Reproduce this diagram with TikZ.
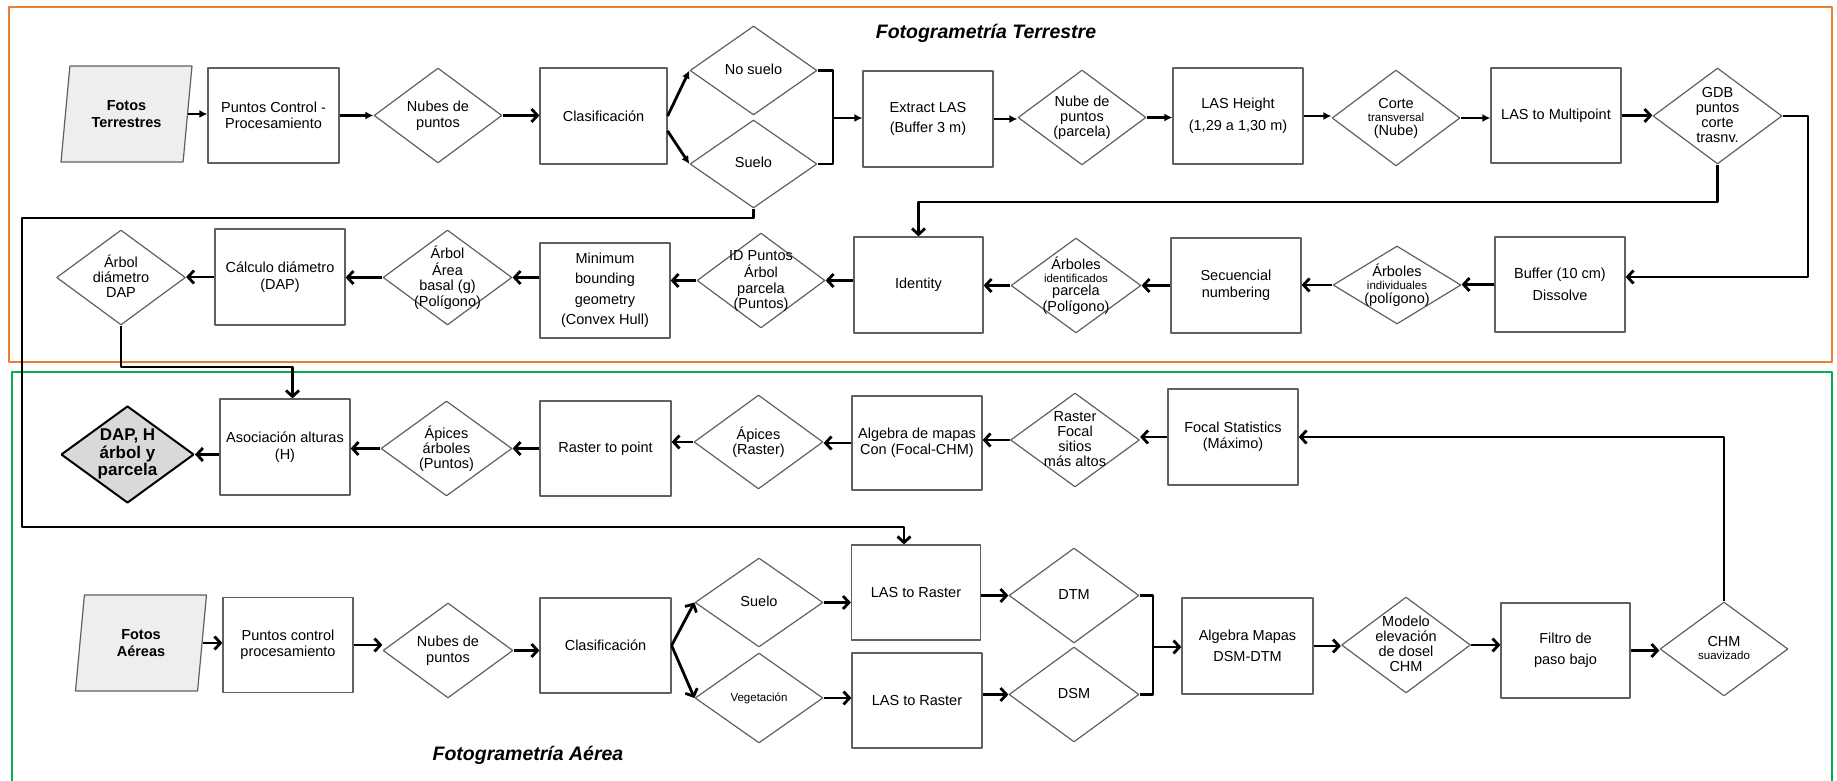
\documentclass[tikz,border=0pt]{standalone}
\usepackage{fontspec}
\setmainfont{Liberation Sans}
\usetikzlibrary{shapes.geometric,arrows.meta}
\definecolor{gris}{RGB}{96,96,96}
\definecolor{naranja}{RGB}{237,125,49}
\definecolor{verde}{RGB}{0,176,80}
\definecolor{relleno}{RGB}{238,238,238}
\definecolor{rellenofin}{RGB}{217,217,217}
\newcommand{\letra}{\fontsize{14.5bp}{16.5bp}\selectfont}
\newcommand{\chico}{\fontsize{11.5bp}{13bp}\selectfont}
\newcommand{\rtxt}[1]{\smash{\raisebox{-4.5bp}{\renewcommand{\arraystretch}{0.92}\begin{tabular}{@{}c@{}}#1\end{tabular}}}}
\begin{document}
\begin{tikzpicture}[>={Straight Barb[length=6bp,width=13bp]},line join=bevel,
    every node/.style={font=\letra},
    caja/.style={draw=gris,line width=1.2bp,rectangle,minimum width=130bp,minimum height=95bp,align=center,inner sep=2bp},
    rombo/.style={draw=gris,line width=1.2bp,diamond,minimum width=128bp,minimum height=95bp,inner sep=0pt},
    entrada/.style={draw=gris,line width=1.2bp,trapezium,trapezium left angle=75,trapezium right angle=105,trapezium stretches body,minimum width=131bp,minimum height=96bp,fill=relleno,align=center,font=\letra\bfseries},
    salida/.style={rombo,draw=black,line width=2bp,fill=rellenofin,minimum width=133bp,minimum height=97bp,font=\fontsize{17bp}{18.5bp}\selectfont\bfseries},
    titulo/.style={font=\fontsize{19.5bp}{22bp}\selectfont\bfseries\itshape},
    marco/.style={line width=1.2bp},
    linea/.style={line width=2.8bp},
    flecha/.style={linea,->},
    flechat/.style={linea,-{Latex[length=8bp,width=8bp]}},
]
    \useasboundingbox (0bp,0bp) rectangle (1837bp,781bp);
    %% marcos
    \draw [marco,draw=naranja] (9bp,419bp) rectangle (1832bp,774bp);
    \draw [marco,draw=verde] (12bp,0bp) -- (12bp,409bp) -- (1832bp,409bp) -- (1832bp,0bp);
    \node (tituloT) at (986bp,748bp) [titulo] {Fotogrametría Terrestre};
    \node (tituloA) at (528bp,26bp) [titulo] {Fotogrametría Aérea};
    %% terrestre
    \node (fotT) at (126.5bp,667bp) [entrada] {Fotos\\Terrestres};
    \node (pcT) at (273.5bp,665.5bp) [caja,minimum width=131bp] {Puntos Control -\\Procesamiento};
    \node (nubT) at (438bp,665.5bp) [rombo] {\rtxt{Nubes de\\puntos}};
    \node (clasT) at (603.5bp,665bp) [caja,minimum width=127bp,minimum height=96bp] {Clasificación};
    \node (noSuelo) at (753.5bp,710.5bp) [rombo,minimum width=127bp,minimum height=89bp] {\rtxt{No suelo}};
    \node (sueloT) at (753.5bp,617bp) [rombo,minimum width=127bp,minimum height=88bp] {\rtxt{Suelo}};
    \node (extLAS) at (928bp,662bp) [caja,minimum height=96bp] {Extract LAS\\[3bp](Buffer 3 m)};
    \node (nubParc) at (1082bp,663.5bp) [rombo] {\rtxt{Nube de\\puntos\\(parcela)}};
    \node (lasH) at (1238bp,665bp) [caja,minimum height=96bp] {LAS Height\\[5bp](1,29 a 1,30 m)};
    \node (corte) at (1396bp,663bp) [rombo,minimum height=96bp] {\rtxt{Corte\\[-2bp]\chico transversal\\[-2bp](Nube)}};
    \node (lasMP) at (1556bp,665.5bp) [caja] {LAS to Multipoint};
    \node (gdb) at (1717.5bp,665bp) [rombo,minimum width=129bp,minimum height=96bp] {\rtxt{GDB\\puntos\\corte\\trasnv.}};
    %
    \node (buffer) at (1560bp,496.5bp) [caja] {Buffer (10 cm)\\[5bp]Dissolve};
    \node (arbInd) at (1397bp,496bp) [rombo,minimum height=78bp] {\rtxt{Árboles\\[-2bp]\chico individuales\\[-2bp](polígono)}};
    \node (secuen) at (1236bp,495.5bp) [caja] {Secuencial\\numbering};
    \node (arbIdent) at (1076bp,495.5bp) [rombo,minimum width=130bp] {\rtxt{Árboles\\[-2bp]\chico identificados\\[-2bp]parcela\\(Polígono)}};
    \node (identity) at (918.5bp,496bp) [caja,minimum width=129bp,minimum height=96bp] {Identity};
    \node (idPuntos) at (761bp,500.5bp) [rombo] {\rtxt{ID Puntos\\Árbol\\parcela\\(Puntos)}};
    \node (minBound) at (605bp,490.5bp) [caja] {Minimum\\[4bp]bounding\\[4bp]geometry\\[4bp](Convex Hull)};
    \node (areaBasal) at (447.5bp,503.5bp) [rombo,minimum width=129bp] {\rtxt{Árbol\\Área\\basal (g)\\(Polígono)}};
    \node (calcDiam) at (280bp,504bp) [caja,minimum height=96bp] {Cálculo diámetro\\(DAP)};
    \node (arbDAP) at (121bp,503.5bp) [rombo,minimum width=129bp] {\rtxt{Árbol\\diámetro\\DAP}};
    %% aerea
    \node (dapH) at (127.5bp,326.5bp) [salida] {\rtxt{DAP, H\\árbol y\\parcela}};
    \node (asoc) at (285bp,334bp) [caja,minimum height=96bp] {Asociación alturas\\(H)};
    \node (apArb) at (446.5bp,332.5bp) [rombo,minimum width=131bp] {\rtxt{Ápices\\árboles\\(Puntos)}};
    \node (rasPt) at (605.5bp,332.5bp) [caja,minimum width=131bp] {Raster to point};
    \node (apRas) at (758.5bp,339bp) [rombo,minimum width=129bp,minimum height=94bp] {\rtxt{Ápices\\(Raster)}};
    \node (algCon) at (917bp,338bp) [caja,minimum height=94bp] {Algebra de mapas\\Con (Focal-CHM)};
    \node (rasFoc) at (1075bp,341bp) [rombo,minimum width=129bp,minimum height=94bp] {\rtxt{Raster\\Focal\\sitios\\más altos}};
    \node (focal) at (1233bp,344bp) [caja,minimum height=96bp] {Focal Statistics\\(Máximo)};
    %
    \node (fotA) at (141bp,138bp) [entrada] {Fotos\\Aéreas};
    \node (pcA) at (288bp,136bp) [caja] {Puntos control\\procesamiento};
    \node (nubA) at (448bp,130.5bp) [rombo,minimum width=130bp] {\rtxt{Nubes de\\puntos}};
    \node (clasA) at (605.5bp,135.5bp) [caja,minimum width=131bp] {Clasificación};
    \node (sueloA) at (759bp,178.5bp) [rombo,minimum height=89bp] {\rtxt{Suelo}};
    \node (vegA) at (759bp,83bp) [rombo,minimum height=90bp] {\rtxt{\chico Vegetación}};
    \node (las1) at (916bp,188.5bp) [caja,minimum width=129bp] {LAS to Raster};
    \node (las2) at (917bp,80.5bp) [caja] {LAS to Raster};
    \node (dtm) at (1074bp,185.5bp) [rombo,minimum width=130bp] {\rtxt{DTM}};
    \node (dsm) at (1074bp,86.5bp) [rombo,minimum width=130bp] {\rtxt{DSM}};
    \node (algMap) at (1247.5bp,135bp) [caja,minimum width=131bp,minimum height=96bp] {Algebra Mapas\\[5bp]DSM-DTM};
    \node (modelo) at (1406bp,136bp) [rombo,minimum width=129bp,minimum height=96bp] {\rtxt{Modelo\\elevación\\de dosel\\CHM}};
    \node (filtro) at (1565.5bp,130.5bp) [caja,minimum width=129bp] {Filtro de\\[5bp]paso bajo};
    \node (chm) at (1724bp,132bp) [rombo,minimum height=94bp] {\rtxt{CHM\\[-2bp]\chico suavizado}};
    %% conectores terrestre
    \draw [flechat] (fotT.east) -- (fotT.east -| pcT.west);
    \draw [flechat] (pcT.east) -- (pcT.east -| nubT.west);
    \draw [flecha] (nubT.east) -- (nubT.east -| clasT.west);
    \draw [flechat] (clasT.east) -- (noSuelo.west);
    \draw [flechat] ([yshift=-15bp]clasT.east) -- (sueloT.west);
    \coordinate (uneT) at (833bp,663bp);
    \draw [linea] (noSuelo.east) -| (uneT) |- (sueloT.east);
    \draw [flechat] (uneT) -- (uneT -| extLAS.west);
    \draw [flechat] (extLAS.east) -- (extLAS.east -| nubParc.west);
    \draw [flechat] (nubParc.east) -- (nubParc.east -| lasH.west);
    \draw [flechat] (lasH.east) -- (lasH.east -| corte.west);
    \draw [flechat] (corte.east) -- (corte.east -| lasMP.west);
    \draw [flecha] (lasMP.east) -- (lasMP.east -| gdb.west);
    \coordinate (codoB) at (1808bp,504bp);
    \draw [flecha] (gdb.east) -| (codoB) -- (codoB -| buffer.east);
    \coordinate (codoI) at (918.5bp,579bp);
    \draw [flecha] (gdb.south) |- (codoI) -- (identity.north);
    \coordinate (codoS) at (22bp,563bp);
    \coordinate (codoR) at (22bp,254bp);
    \draw [flecha] (sueloT.south) |- (codoS) -- (codoR) -| ([xshift=-12bp]las1.north);
    %
    \draw [flecha] (buffer.west) -- (buffer.west -| arbInd.east);
    \draw [flecha] (arbInd.west) -- (arbInd.west -| secuen.east);
    \draw [flecha] (secuen.west) -- (secuen.west -| arbIdent.east);
    \draw [flecha] (arbIdent.west) -- (arbIdent.west -| identity.east);
    \draw [flecha] (identity.west |- idPuntos.east) -- (idPuntos.east);
    \draw [flecha] (idPuntos.west) -- (idPuntos.west -| minBound.east);
    \draw [flecha] (minBound.west |- areaBasal.east) -- (areaBasal.east);
    \draw [flecha] (areaBasal.west) -- (areaBasal.west -| calcDiam.east);
    \draw [flecha] (calcDiam.west) -- (calcDiam.west -| arbDAP.east);
    \coordinate (codoD) at (292.5bp,414bp);
    \draw [flecha] (arbDAP.south) |- (codoD) -- (codoD |- asoc.north);
    %% conectores aerea
    \draw [flecha] (chm.north) |- (focal.east);
    \draw [flecha] (focal.west) -- (focal.west -| rasFoc.east);
    \draw [flecha] (rasFoc.west) -- (rasFoc.west -| algCon.east);
    \draw [flecha] (algCon.west) -- (algCon.west -| apRas.east);
    \draw [flecha] (apRas.west) -- (apRas.west -| rasPt.east);
    \draw [flecha] (rasPt.west) -- (rasPt.west -| apArb.east);
    \draw [flecha] (apArb.west) -- (apArb.west -| asoc.east);
    \draw [flecha] (asoc.west |- dapH.east) -- (dapH.east);
    %
    \draw [flecha] (fotA.east) -- (fotA.east -| pcA.west);
    \draw [flecha] (pcA.east) -- (pcA.east -| nubA.west);
    \draw [flecha] (nubA.east) -- (nubA.east -| clasA.west);
    \draw [flecha] (clasA.east) -- (sueloA.west);
    \draw [flecha] (clasA.east) -- (vegA.west);
    \draw [flecha] (sueloA.east) -- (sueloA.east -| las1.west);
    \draw [flecha] (vegA.east) -- (vegA.east -| las2.west);
    \draw [flecha] (las1.east |- dtm.west) -- (dtm.west);
    \draw [flecha] (las2.east |- dsm.west) -- (dsm.west);
    \coordinate (uneA) at (1153bp,134bp);
    \draw [linea] (dtm.east) -| (uneA) |- (dsm.east);
    \draw [flecha] (uneA) -- (uneA -| algMap.west);
    \draw [flecha] (algMap.east) -- (algMap.east -| modelo.west);
    \draw [flecha] (modelo.east) -- (modelo.east -| filtro.west);
    \draw [flecha] (filtro.east) -- (filtro.east -| chm.west);
    %
\end{tikzpicture}
\end{document}
